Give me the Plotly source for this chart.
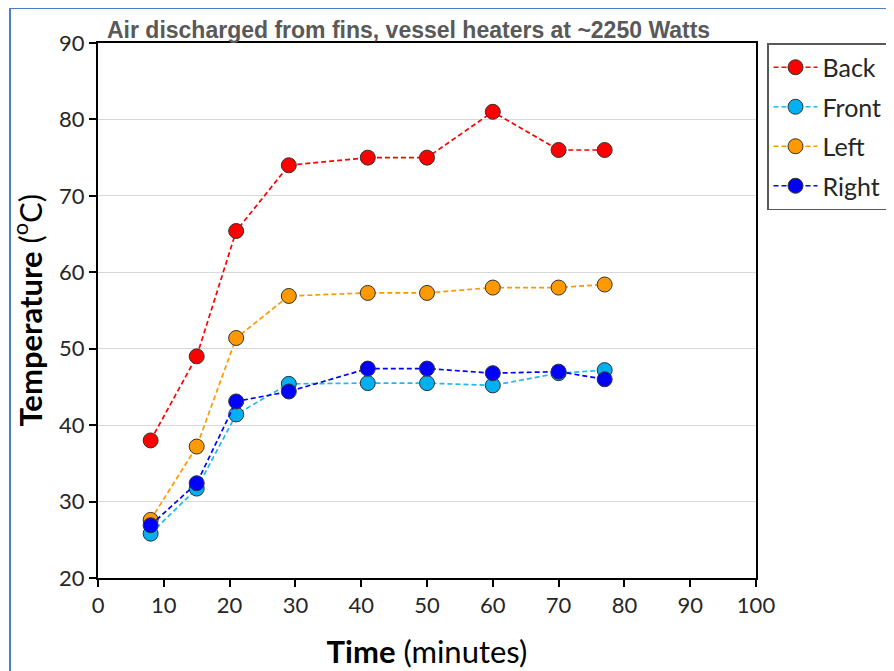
import plotly.graph_objects as go

time_min = [8, 15, 21, 29, 41, 50, 60, 70, 77]
back = [38.0, 49.0, 65.4, 74.0, 75.0, 75.0, 81.0, 76.0, 76.0]
front = [25.8, 31.7, 41.4, 45.4, 45.5, 45.5, 45.2, 46.8, 47.2]
left = [27.6, 37.2, 51.4, 56.9, 57.3, 57.3, 58.0, 58.0, 58.4]
right = [26.9, 32.4, 43.1, 44.4, 47.4, 47.4, 46.8, 47.0, 46.0]

series = [
    ("Back", back, "#FF0000", "#FF0000"),
    ("Front", front, "#00B0F0", "#1FB8F0"),
    ("Left", left, "#FF9900", "#FF9900"),
    ("Right", right, "#0000FF", "#0000FF"),
]

x_ticks = list(range(0, 101, 10))
y_ticks = list(range(20, 91, 10))

fig = go.Figure()
for name, vals, mcol, lcol in series:
    fig.add_trace(go.Scatter(
        x=time_min, y=vals, name=name, mode="lines+markers", legendgroup=name,
        line=dict(color=lcol, width=1.7, dash="5px,3px"),
        marker=dict(size=15, color=mcol, line=dict(color="#333333", width=1)),
    ))

# page body has an 8px margin, so plot-area margins are offset by 8px
fig.update_layout(
    width=894, height=671,
    margin=dict(l=90, r=146, t=35, b=101),
    paper_bgcolor="white", plot_bgcolor="white",
    font=dict(family="Lato, Open Sans, sans-serif", color="#262626", size=22),
    showlegend=True,
    legend=dict(
        x=(759 - 90) / 658, y=1.0, xanchor="left", yanchor="top",
        bordercolor="#595959", borderwidth=1.5,
        font=dict(size=25, color="#262626"),
        tracegroupgap=4, itemwidth=44,
    ),
    xaxis=dict(
        range=[0, 100], tickvals=x_ticks, ticks="outside", ticklen=7,
        tickwidth=2, tickcolor="black", showline=True, linecolor="black",
        linewidth=2, mirror=True, showgrid=False, zeroline=False,
        tickfont=dict(size=22, color="#262626"),
        title=dict(text="<b>Time</b> (minutes)", font=dict(size=31, color="#000000"), standoff=24),
    ),
    yaxis=dict(
        range=[20, 90], tickvals=y_ticks, ticks="outside", ticklen=7,
        tickwidth=2, tickcolor="black", showline=True, linecolor="black",
        linewidth=2, mirror=True, showgrid=True, gridcolor="#D9D9D9",
        gridwidth=1, zeroline=False,
        tickfont=dict(size=22, color="#262626"),
    ),
)

fig.add_annotation(
    text="<b>Temperature</b> (<sup>o</sup>C)",
    xref="paper", yref="paper", x=(20 - 90) / 658, y=0.5, xanchor="center", yanchor="middle",
    textangle=-90, showarrow=False,
    font=dict(family="Lato, Open Sans, sans-serif", size=31, color="#000000"),
)

fig.add_annotation(
    text="<b>Air discharged from fins, vessel heaters at ~2250 Watts</b>",
    xref="paper", yref="paper", x=(105 - 98) / 658, y=1.0, xanchor="left", yanchor="bottom",
    yshift=-2, showarrow=False,
    font=dict(family="Liberation Sans, Arial, sans-serif", size=23, color="#595959"),
)

fig.add_shape(
    type="rect", xref="paper", yref="paper",
    x0=(2 - 90) / 658, x1=2.0, y0=-0.5, y1=(570 - 0) / 535,
    line=dict(color="#4A7EC7", width=2), fillcolor="rgba(0,0,0,0)", layer="below",
)

fig.write_html("out.html")
